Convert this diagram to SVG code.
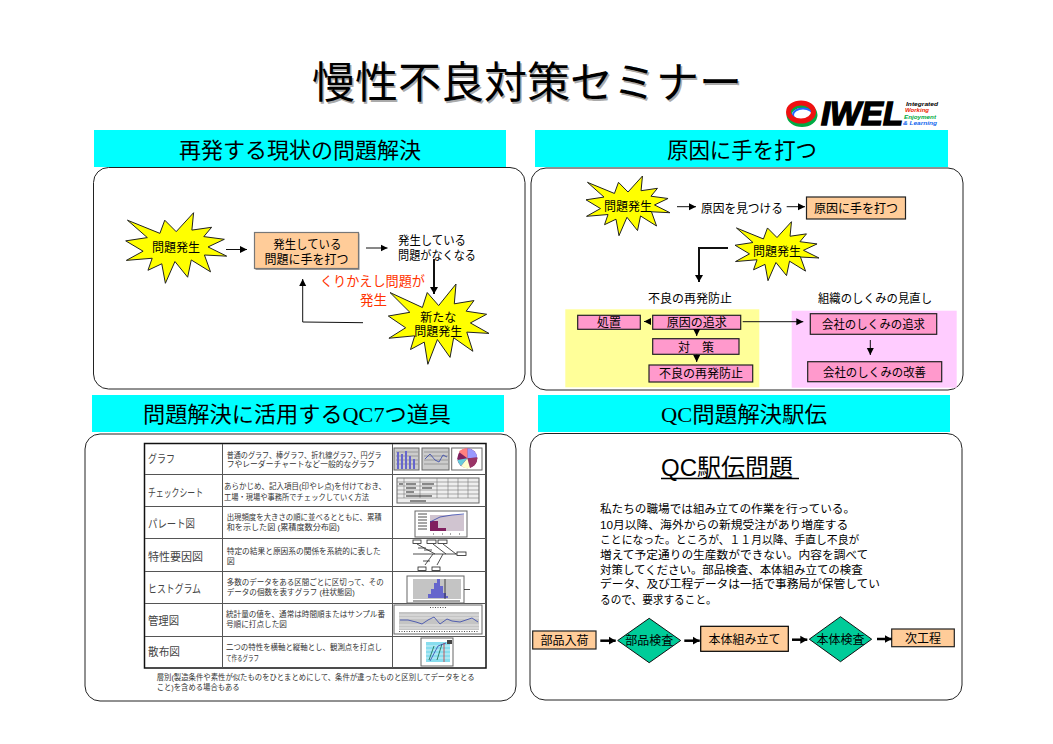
<svg xmlns="http://www.w3.org/2000/svg" width="1053" height="744" viewBox="0 0 1053 744">
<style>
text{font-family:"Liberation Sans","Noto Sans CJK JP",sans-serif;fill:#000}
.c{text-anchor:middle}
.t12{font-size:12px}
.t22{font-size:22px}
.head{fill:#00FFFF}
.serif{font-family:"Liberation Serif","Noto Sans CJK JP",serif}
.panel{fill:#fff;stroke:#222;stroke-width:1}
.burst{fill:#FFFF00;stroke:#222;stroke-width:1;vector-effect:non-scaling-stroke}
.org{fill:#FFCC99;stroke:#222;stroke-width:1.2}
.pnk{fill:#FF99CC;stroke:#222;stroke-width:1.2}
.dia{fill:#00CC99;stroke:#111;stroke-width:1}
.ln{fill:none;stroke:#111;stroke-width:1;marker-end:url(#ah)}
.ln2{fill:none;stroke:#111;stroke-width:2;marker-end:url(#ah2)}
.ln3{fill:none;stroke:#000;stroke-width:2.5;marker-end:url(#ah3)}
.tb{fill:none;stroke:#111;stroke-width:1.5}
.tl{stroke:#555;stroke-width:1}
.lab{font-size:11px;fill:#444}
.dsc{font-size:8px;fill:#333}
.th{fill:#e8e8e8;stroke:#666;stroke-width:1}
.g{fill:#c4c4c4}
.thl{stroke:#777;stroke-width:.6;fill:none}
.blu{fill:none;stroke:#3344aa;stroke-width:.8}
.b{fill:#6666cc}
.k{stroke:#222;stroke-width:.8;fill:none}
.kb{fill:#fff;stroke:#222;stroke-width:.8}
</style>
<defs>
<polygon id="burst" class="burst" points="10800,5800 14522,0 14155,5325 18380,4457 16702,7315 21097,8137 17607,10475 21600,13290 16837,12942 18145,18095 14020,14457 13247,19737 10532,14935 8485,21600 7715,15627 4762,17617 5667,13937 135,14587 3722,11775 0,8615 4627,7617 370,2295 7312,6320 8352,2295"/>
<marker id="ah" markerUnits="userSpaceOnUse" markerWidth="8" markerHeight="8" refX="7" refY="4" orient="auto"><path d="M0,0.5L7,4L0,7.500z" fill="#000"/></marker>
<marker id="ah2" markerUnits="userSpaceOnUse" markerWidth="8" markerHeight="8" refX="7" refY="4" orient="auto"><path d="M0,0L7,4L0,8z" fill="#000"/></marker>
<marker id="ah3" markerUnits="userSpaceOnUse" markerWidth="9" markerHeight="9" refX="7" refY="4.500" orient="auto"><path d="M0,0.500L7,4.500L0,8.500z" fill="#000"/></marker>
</defs>
<rect width="1053" height="744" fill="#fff"/>

<g id="title">
<text x="528.500" y="99.500" class="c" font-size="43" style="fill:#aaa">慢性不良対策セミナー</text>
<text x="527" y="98" class="c" font-size="43">慢性不良対策セミナー</text>
</g>

<g id="logo">
<ellipse cx="802" cy="115" rx="13" ry="9.500" fill="none" stroke="#00aa44" stroke-width="5"/>
<ellipse cx="803" cy="115" rx="10" ry="6.500" fill="none" stroke="#2266ff" stroke-width="2"/>
<ellipse cx="801" cy="112" rx="12.500" ry="9" fill="none" stroke="#ee1111" stroke-width="5"/>
<text x="821" y="125" font-size="33" font-weight="bold" font-style="italic" stroke="#000" stroke-width="1.500" textLength="82" lengthAdjust="spacingAndGlyphs">IWEL</text>
<g font-size="6" font-weight="bold" font-style="italic">
<text x="906" y="105.500" textLength="32" lengthAdjust="spacingAndGlyphs">Integrated</text>
<text x="905" y="112" style="fill:#ee2200" textLength="24" lengthAdjust="spacingAndGlyphs">Working</text>
<text x="904" y="118.500" style="fill:#00aa44" textLength="32" lengthAdjust="spacingAndGlyphs">Enjoyment</text>
<text x="903" y="124.500" style="fill:#1166ee" textLength="34" lengthAdjust="spacingAndGlyphs">&amp; Learning</text>
</g>
</g>

<g id="panel-1">
<rect class="head" x="94" y="130" width="412" height="37"/>
<text class="c t22" x="300" y="158">再発する現状の問題解決</text>
<rect class="panel" x="93.500" y="167.500" width="431.500" height="221.500" rx="15"/>
</g>
<g id="panel-2">
<rect class="head" x="535" y="130" width="413" height="37"/>
<text class="t22" x="667" y="158" textLength="150" lengthAdjust="spacingAndGlyphs">原因に手を打つ</text>
<rect class="panel" x="531" y="168" width="432" height="222" rx="15"/>
</g>
<g id="panel-3">
<rect class="head" x="92" y="395" width="412" height="37"/>
<text class="t22 serif" x="143" y="422" textLength="308" lengthAdjust="spacingAndGlyphs">問題解決に活用するQC7つ道具</text>
<rect class="panel" x="85" y="434" width="431" height="267" rx="15"/>
</g>
<g id="panel-4">
<rect class="head" x="538" y="395" width="412" height="37"/>
<text class="t22 serif" x="661" y="422" textLength="166" lengthAdjust="spacingAndGlyphs">QC問題解決駅伝</text>
<rect class="panel" x="530" y="433.500" width="432" height="266.500" rx="15"/>
</g>

<g id="n-burst1"><use href="#burst" transform="translate(125.700 212.700) scale(.004676 .003269)"/><text class="c t12" x="176" y="252">問題発生</text></g>
<g id="n-fix"><rect x="255.500" y="233.500" width="104" height="36.500" fill="#999"/><rect class="org" x="254.500" y="232.500" width="104" height="36" style="stroke:#777"/><text class="t12" x="273.300" y="249" textLength="68" lengthAdjust="spacingAndGlyphs">発生している</text><text class="c t12" x="306.500" y="264">問題に手を打つ</text></g>
<g id="n-gone"><text class="t12" x="398" y="245" textLength="68" lengthAdjust="spacingAndGlyphs">発生している</text><text class="t12" x="398" y="260" textLength="78" lengthAdjust="spacingAndGlyphs">問題がなくなる</text></g>
<g id="n-burst2"><use href="#burst" transform="translate(388.300 284) scale(.004662 .003718)"/><text class="c t12" x="438.300" y="322">新たな</text><text class="c t12" x="438.300" y="336">問題発生</text></g>
<g id="n-repeat"><text x="425" y="286" font-size="13.500" text-anchor="end" style="fill:#FF3300" textLength="105" lengthAdjust="spacingAndGlyphs">くりかえし問題が</text><text x="387" y="305" font-size="13.500" text-anchor="end" style="fill:#FF3300">発生</text></g>

<g id="n-burst3"><use href="#burst" transform="translate(586 176) scale(.003889 .002764)"/><text class="c t12" x="628" y="210.500">問題発生</text></g>
<g id="n-find"><text class="t12" x="701" y="212.500" textLength="82" lengthAdjust="spacingAndGlyphs">原因を見つける</text></g>
<g id="n-cause"><rect class="org" x="806.500" y="197" width="99" height="22"/><text class="c t12" x="856" y="212.500">原因に手を打つ</text></g>
<g id="n-burst4"><use href="#burst" transform="translate(735 221.700) scale(.003889 .002731)"/><text class="c t12" x="777" y="256">問題発生</text></g>
<g id="n-zones">
<rect x="565.300" y="309.300" width="194" height="78" fill="#FFFF99"/>
<rect x="791.700" y="310.700" width="165" height="77" fill="#FFCCFF"/>
<text class="c t12" x="690" y="303">不良の再発防止</text>
<text class="t12" x="818" y="303" textLength="114" lengthAdjust="spacingAndGlyphs">組織のしくみの見直し</text>
</g>
<g id="n-shochi"><rect class="pnk" x="577.700" y="315.300" width="62.600" height="14"/><text class="c t12" x="609" y="327">処置</text></g>
<g id="n-tsuikyu"><rect class="pnk" x="652.700" y="315.300" width="88" height="14"/><text class="c t12" x="696.700" y="327">原因の追求</text></g>
<g id="n-taisaku"><rect class="pnk" x="652.700" y="338.700" width="86.300" height="15.600"/><text class="c t12" x="696" y="352">対　策</text></g>
<g id="n-boshi"><rect class="pnk" x="649" y="365" width="103.700" height="17"/><text class="c t12" x="701" y="378">不良の再発防止</text></g>
<g id="n-corp1"><rect class="pnk" x="810.300" y="313.700" width="126.400" height="20.600"/><text class="t12" x="822" y="328.500" textLength="103" lengthAdjust="spacingAndGlyphs">会社のしくみの追求</text></g>
<g id="n-corp2"><rect class="pnk" x="807.700" y="361.700" width="134" height="20"/><text class="t12" x="823" y="377" textLength="103" lengthAdjust="spacingAndGlyphs">会社のしくみの改善</text></g>

<g id="n-table">
<rect class="tb" x="144.500" y="443.500" width="341.500" height="224.500"/>
<path class="tl" d="M145,474.500H486M145,506.500H486M145,538.500H486M145,571.500H486M145,603.500H486M145,636.500H486M222.500,444V668M392.500,444V668"/>
<text class="lab" x="148" y="463" textLength="27" lengthAdjust="spacingAndGlyphs">グラフ</text>
<text class="lab" x="148" y="497" textLength="55" lengthAdjust="spacingAndGlyphs">チェックシート</text>
<text class="lab" x="148" y="528" textLength="47" lengthAdjust="spacingAndGlyphs">パレート図</text>
<text class="lab" x="148" y="561" textLength="55" lengthAdjust="spacingAndGlyphs">特性要因図</text>
<text class="lab" x="148" y="593" textLength="53" lengthAdjust="spacingAndGlyphs">ヒストグラム</text>
<text class="lab" x="148" y="625" textLength="31" lengthAdjust="spacingAndGlyphs">管理図</text>
<text class="lab" x="148" y="656" textLength="32" lengthAdjust="spacingAndGlyphs">散布図</text>
<text class="dsc" x="226.700" y="458" textLength="155" lengthAdjust="spacingAndGlyphs">普通のグラフ、棒グラフ、折れ線グラフ、円グラ</text>
<text class="dsc" x="226.700" y="467" textLength="148" lengthAdjust="spacingAndGlyphs">フやレーダーチャートなど一般的なグラフ</text>
<text class="dsc" x="224" y="489" textLength="162" lengthAdjust="spacingAndGlyphs">あらかじめ、記入項目(印やレ点)を付けておき、</text>
<text class="dsc" x="224" y="500" textLength="145" lengthAdjust="spacingAndGlyphs">工場・現場や事務所でチェックしていく方法</text>
<text class="dsc" x="226.700" y="520" textLength="155" lengthAdjust="spacingAndGlyphs">出現頻度を大きさの順に並べるとともに、累積</text>
<text class="dsc" x="226.700" y="530" textLength="113" lengthAdjust="spacingAndGlyphs">和を示した図 (累積度数分布図)</text>
<text class="dsc" x="226.700" y="554" textLength="154" lengthAdjust="spacingAndGlyphs">特定の結果と原因系の関係を系統的に表した</text>
<text class="dsc" x="226.700" y="564">図</text>
<text class="dsc" x="226.700" y="585" textLength="157" lengthAdjust="spacingAndGlyphs">多数のデータをある区間ごとに区切って、その</text>
<text class="dsc" x="226.700" y="595" textLength="128" lengthAdjust="spacingAndGlyphs">データの個数を表すグラフ (柱状態図)</text>
<text class="dsc" x="226" y="617" textLength="159" lengthAdjust="spacingAndGlyphs">統計量の値を、通常は時間順またはサンプル番</text>
<text class="dsc" x="226" y="627" textLength="61" lengthAdjust="spacingAndGlyphs">号順に打点した図</text>
<text class="dsc" x="226" y="650" textLength="156" lengthAdjust="spacingAndGlyphs">二つの特性を横軸と縦軸とし、観測点を打点し</text>
<text class="dsc" x="226" y="661" textLength="33" lengthAdjust="spacingAndGlyphs">て作るグラフ</text>
<text class="dsc" x="156.700" y="680" textLength="318" lengthAdjust="spacingAndGlyphs">層別(製造条件や素性が似たものをひとまとめにして、条件が違ったものと区別してデータをとる</text>
<text class="dsc" x="156.700" y="690" textLength="83" lengthAdjust="spacingAndGlyphs">こと)を含める場合もある</text>
</g>

<g id="thumbs">
<rect class="th" x="394" y="448" width="25" height="22" style="fill:#ccc"/>
<path class="thl" d="M396,452H418M396,456H418M396,460H418M396,464H418"/>
<path class="b" d="M397,452h2v17h-2zM401,454h2v15h-2zM405,451h2v18h-2zM409,456h2v13h-2zM413,459h2v10h-2z"/>
<rect class="th" x="422" y="448" width="27" height="22" style="fill:#ccc"/>
<path class="thl" d="M424,452H448M424,456H448M424,460H448M424,464H448"/>
<path class="blu" d="M425,459L430,454L435,460L439,462L443,455L447,457"/>
<rect x="451.700" y="448" width="30.300" height="22" fill="#fff" stroke="#666"/>
<circle cx="467.300" cy="458.300" r="10" fill="#802060"/>
<path d="M467.300,458.300L467.300,448.300A10,10 0 0 1 477.300,457.500z" fill="#9999ff"/>
<path d="M467.300,458.300L477.300,457.500A10,10 0 0 1 470,468z" fill="#993366"/>
<path d="M467.300,458.300L470,468A10,10 0 0 1 461,466z" fill="#ffffcc"/>
<path d="M467.300,458.300L461,466A10,10 0 0 1 457.500,460z" fill="#66ccdd"/>
<path d="M467.300,458.300L459,452A10,10 0 0 1 467.300,448.300z" fill="#ff8080"/>

<rect class="th" x="397" y="478" width="82" height="25" style="fill:#eee"/>
<path class="thl" d="M397,482H479M397,486H479M397,490H479M397,494H479M397,498H479M404,478V498M420,478V498M437,478V498M448,478V498M458,478V498M468,478V498"/>
<path stroke="#222" stroke-width="1.200" fill="none" d="M399,484H403M406,484H416M422,484H434M406,488H416M422,488H432M406,492H414M406,496H432M410,501H426"/>

<rect class="th" x="415" y="511" width="52" height="26" style="fill:#fff"/>
<rect x="430" y="515" width="34" height="16" fill="#d0c4d0"/>
<path d="M430,521h8v10h-8z" fill="#802060"/><path d="M438,528h8v3h-8z" fill="#802060"/>
<path class="blu" d="M430,522L440,517L452,515L464,514"/>
<path class="k" d="M418,514H427M418,517H427M418,520H427M418,523H427M418,526H427M418,529H427M433,534H434M442,534H443M450,534H451M459,534H460"/>

<path class="k" d="M413,554H457M417,544L435,554M433,544L446,554M443,544L456,554M425,565L433,554M437,565L443,554M418,548H426M424,550H432M423,561H430"/>
<rect class="kb" x="413" y="540" width="8" height="3.500"/><rect class="kb" x="427" y="540" width="9" height="3.500"/><rect class="kb" x="438" y="540" width="9" height="3.500"/>
<rect class="kb" x="418" y="567" width="8" height="3.500"/><rect class="kb" x="432" y="567" width="8" height="3.500"/>
<rect class="kb" x="457" y="552" width="9" height="3.500"/>

<rect class="th" x="407" y="576" width="57" height="27" style="fill:#fff"/>
<rect class="g" x="413" y="579" width="48" height="20"/>
<path class="b" d="M428,598h3v-4h-3zM431,598h3v-9h-3zM434,598h3v-15h-3zM437,598h3v-19h-3zM440,598h3v-12h-3zM443,598h3v-5h-3zM446,598h2v-2h-2z"/>
<path class="k" d="M445,579V599M413,601H460M464,589.500H470"/>

<rect class="th" x="394" y="605" width="88" height="29" style="fill:#fff"/>
<rect class="g" x="399" y="612" width="80" height="18"/>
<path stroke="#fff" stroke-width=".6" d="M399,615H479M399,618H479M399,625H479M399,628H479"/>
<path class="k" d="M430,607.500H446M399,631.500H479" stroke-dasharray="1 1.500"/>
<path class="blu" d="M400,620L408,620L416,622L422,624L428,620L434,617L440,624L447,619L452,621L460,622L466,620L472,618L478,622"/>

<rect class="th" x="421" y="638" width="32" height="28" style="fill:#fff"/>
<rect x="426" y="642" width="24" height="20" fill="#88ddee"/>
<path stroke="#fff" stroke-width=".6" d="M426,646H450M426,650H450M426,654H450M426,658H450"/>
<path class="k" d="M429,660L434,646M437,660L442,644" style="stroke:#116644"/>
<path class="blu" d="M430,661L438,646L446,643"/>
<path d="M444,643V662" stroke="#cc3333" stroke-width=".8"/><rect x="447" y="640" width="5" height="4" fill="#444"/>
</g>

<g id="n-ekiden">
<text x="661" y="476" font-size="24">QC駅伝問題</text>
<path d="M661,478.500H799" stroke="#000" stroke-width="1.500"/>
<g font-size="11.600">
<text x="600" y="513" textLength="255" lengthAdjust="spacingAndGlyphs">私たちの職場では組み立ての作業を行っている。</text>
<text x="600" y="528.500" textLength="248.300" lengthAdjust="spacingAndGlyphs">10月以降、海外からの新規受注があり増産する</text>
<text x="600" y="544" textLength="259.300" lengthAdjust="spacingAndGlyphs">ことになった。ところが、１１月以降、手直し不良が</text>
<text x="600" y="558.500" textLength="268.300" lengthAdjust="spacingAndGlyphs">増えて予定通りの生産数ができない。内容を調べて</text>
<text x="600" y="574" textLength="262.700" lengthAdjust="spacingAndGlyphs">対策してください。部品検査、本体組み立ての検査</text>
<text x="600" y="588" textLength="280" lengthAdjust="spacingAndGlyphs">データ、及び工程データは一括で事務局が保管してい</text>
<text x="600" y="604" textLength="116.700" lengthAdjust="spacingAndGlyphs">るので、要求すること。</text>
</g>
</g>
<g id="n-f1"><rect class="org" x="532.700" y="631" width="63.300" height="18"/><text class="c t12" x="564.500" y="645">部品入荷</text></g>
<g id="n-f2"><polygon class="dia" points="649.200,618.300 680.700,640.500 649.200,662.700 617.700,640.500"/><text class="c t12" x="649.200" y="645">部品検査</text></g>
<g id="n-f3"><rect class="org" x="700.700" y="626.300" width="87.600" height="25" style="stroke:#000"/><text class="c t12" x="744.500" y="644">本体組み立て</text></g>
<g id="n-f4"><polygon class="dia" points="840.500,616.700 871.700,639.200 840.500,661.700 809.300,639.200"/><text class="c t12" x="840.500" y="644">本体検査</text></g>
<g id="n-f5"><rect class="org" x="891.700" y="629" width="62.600" height="17.700"/><text class="c t12" x="923" y="643">次工程</text></g>

<g id="connectors">
<path class="ln" d="M226,249.500H247"/>
<path class="ln" d="M366,248H387.500"/>
<path class="ln2" d="M434,259V294"/>
<path class="ln" d="M363,322.700L302.700,322V279"/>
<path class="ln" d="M677,206.700H696"/>
<path class="ln" d="M786.700,206.700H805"/>
<path class="ln2" d="M728,248H699V282"/>
<path class="ln" d="M650,321.500H644"/>
<path class="ln" d="M696.700,329.500V336"/>
<path class="ln" d="M696.700,354.500V362"/>
<path class="ln" d="M742.700,321.700H803.300"/>
<path class="ln" d="M870.300,340V355"/>
<path class="ln3" d="M600.300,640.700H615.700"/>
<path class="ln3" d="M684.300,640.700H699.700"/>
<path class="ln3" d="M792,639.700H807.300"/>
<path class="ln3" d="M877,639H891.700"/>
</g>
</svg>
